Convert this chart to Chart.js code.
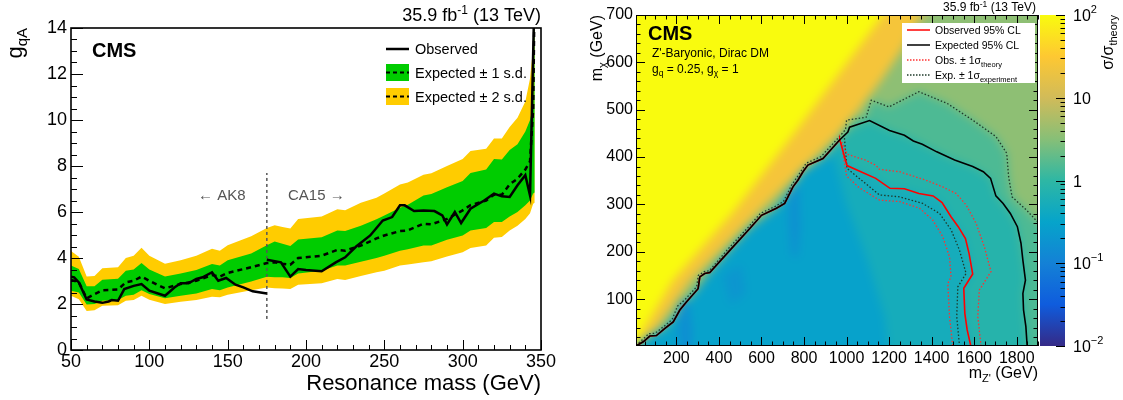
<!DOCTYPE html>
<html><head><meta charset="utf-8"><title>CMS limits</title>
<script src="https://cdn.jsdelivr.net/npm/chart.js@4.4.1/dist/chart.umd.min.js"></script>
<style>
html,body{margin:0;padding:0;background:#fff;}
#page{position:relative;width:1123px;height:400px;overflow:hidden;background:#fff;}
canvas{display:block;}
#cL{position:absolute;left:0;top:0;}
#heatWrap{position:absolute;overflow:hidden;}
#cH{position:absolute;filter:blur(5px);}
#cR{position:absolute;left:560px;top:0;}
</style></head><body>
<div id="page">
<canvas id="cL" width="560" height="400"></canvas>
<div id="heatWrap"><canvas id="cH"></canvas></div>
<canvas id="cR" width="563" height="400"></canvas>
</div>
<script>
// ================= LEFT PANEL DATA =================
const bandM      = [50, 55, 60, 65, 70, 80, 85, 90, 95, 100, 110, 120, 130, 140, 145, 150, 165, 175, 180, 185, 190, 195, 210, 220, 225, 235, 245, 250, 260, 265, 275, 280, 290, 300, 305, 315, 320, 325, 330, 335, 340, 343, 345, 346];
const yellowUp   = [4.3, 4.05, 3.2, 3.22, 3.55, 3.6, 4.0, 4.1, 4.45, 4.1, 3.75, 3.9, 4.1, 4.4, 4.32, 4.55, 4.95, 5.3, 5.42, 5.35, 5.28, 5.7, 5.8, 6.12, 6.08, 6.4, 6.62, 6.8, 7.2, 7.28, 7.62, 7.68, 8.0, 8.3, 8.65, 8.75, 9.2, 9.2, 9.7, 10.1, 10.8, 11.8, 13.2, 16];
const greenUp    = [3.67, 3.52, 2.77, 2.77, 3.05, 3.1, 3.45, 3.5, 3.78, 3.5, 3.2, 3.33, 3.48, 3.74, 3.67, 3.9, 4.2, 4.55, 4.72, 4.62, 4.52, 4.8, 4.9, 5.2, 5.17, 5.4, 5.68, 5.85, 6.18, 6.32, 6.72, 6.78, 7.08, 7.35, 7.7, 7.85, 8.3, 8.28, 8.7, 8.95, 9.5, 10.0, 10.6, 16];
const greenDown  = [2.58, 2.5, 1.98, 2.0, 2.14, 2.17, 2.36, 2.4, 2.6, 2.43, 2.25, 2.36, 2.46, 2.65, 2.6, 2.72, 2.98, 3.19, 3.16, 3.16, 3.13, 3.33, 3.45, 3.67, 3.67, 3.84, 4.0, 4.1, 4.32, 4.38, 4.54, 4.54, 4.79, 4.98, 5.2, 5.3, 5.56, 5.56, 5.8, 6.0, 6.29, 6.5, 6.8, 6.85];
const yellowDown = [2.36, 2.21, 1.7, 1.73, 1.92, 1.95, 2.14, 2.17, 2.36, 2.18, 2.0, 2.1, 2.17, 2.31, 2.29, 2.4, 2.6, 2.72, 2.69, 2.67, 2.65, 2.84, 2.9, 3.09, 3.04, 3.22, 3.38, 3.45, 3.67, 3.72, 3.81, 3.86, 4.06, 4.25, 4.44, 4.54, 4.88, 4.91, 5.2, 5.4, 5.7, 5.95, 6.36, 6.4];
const expectedG  = [3.05, 2.95, 2.24, 2.43, 2.6, 2.63, 2.94, 3.01, 3.19, 3.01, 2.68, 2.87, 3.01, 3.26, 3.19, 3.35, 3.6, 3.78, 3.81, 3.75, 3.71, 4.0, 4.1, 4.35, 4.32, 4.54, 4.85, 4.98, 5.17, 5.2, 5.49, 5.46, 5.7, 6.07, 6.3, 6.5, 6.75, 6.75, 7.2, 7.45, 7.85, 8.2, 10.5, 16];
const obsAK8M  = [50, 52, 55, 60, 65, 70, 74, 76, 80, 84, 90, 95, 100, 110, 116, 120, 125, 130, 134, 140, 144, 149, 155, 160, 166, 175];
const obsAK8G  = [3.19, 3.16, 2.94, 2.2, 2.11, 2.05, 2.11, 2.17, 2.14, 2.65, 2.79, 2.87, 2.58, 2.36, 2.72, 2.9, 2.9, 3.09, 3.16, 3.38, 3.01, 3.13, 2.84, 2.72, 2.55, 2.46];
const obsCA15M = [175, 184, 190, 195, 200, 210, 219, 225, 232, 241, 249, 255, 260, 263, 269, 275, 282, 287, 290, 295, 299, 305, 314, 320, 325, 330, 335, 340, 343, 346];
const obsCA15G = [3.92, 3.81, 3.19, 3.52, 3.48, 3.42, 3.81, 4.03, 4.5, 4.98, 5.63, 5.78, 6.29, 6.29, 6.04, 6.07, 6.04, 5.85, 5.46, 6.0, 5.52, 6.14, 6.51, 6.8, 6.68, 6.65, 7.16, 7.6, 6.72, 16];
const dividerM = [175, 175];
const dividerG = [1.35, 7.7];
const xTicksL = [50, 100, 150, 200, 250, 300, 350];
const yTicksL = [0, 2, 4, 6, 8, 10, 12, 14];

// ================= RIGHT PANEL DATA =================
const diagM   = [10, 44, 75, 106, 146, 185, 216, 247, 302, 310, 333, 357, 451, 545, 600, 670, 709, 748, 771, 795, 818, 889, 967];
const diagChi = [1, 10, 22, 23, 38, 52, 77, 94, 122, 147, 154, 156, 203, 249, 277, 292, 302, 337, 351, 369, 383, 397, 436];
const expBrM   = [1006, 1014, 1108, 1202, 1272, 1314, 1356, 1424, 1508, 1593, 1643, 1677, 1702, 1736, 1770, 1803, 1820, 1829, 1841, 1829, 1832, 1843, 1849];
const expBrChi = [453, 463, 477, 456, 446, 434, 427, 411, 394, 380, 369, 355, 318, 302, 281, 253, 218, 182, 140, 112, 77, 42, 1];
const obsBrM   = [968, 1002, 1137, 1204, 1272, 1340, 1407, 1449, 1491, 1525, 1559, 1576, 1593, 1551, 1556, 1567, 1584];
const obsBrChi = [437, 382, 355, 334, 333, 323, 318, 304, 274, 253, 228, 196, 153, 123, 70, 35, 1];
const obsUpM   = [977, 1002, 1086, 1137, 1155, 1249, 1374, 1452, 1515, 1562, 1609, 1648, 1679, 1624, 1617, 1632];
const obsUpChi = [432, 406, 394, 383, 374, 369, 351, 337, 323, 299, 260, 210, 158, 119, 63, 1];
const obsDnM   = [975, 1000, 1060, 1155, 1249, 1343, 1405, 1452, 1484, 1491, 1476, 1484, 1499];
const obsDnChi = [430, 360, 335, 309, 306, 292, 267, 232, 189, 147, 133, 63, 1];
const expUpM   = [10, 40, 70, 100, 140, 180, 205, 240, 295, 303, 330, 355, 445, 540, 595, 665, 703, 742, 765, 790, 810, 880, 960, 995, 1000, 1092, 1116, 1200, 1340, 1474, 1593, 1703, 1753, 1762, 1778, 1846, 1900];
const expUpChi = [3, 14, 27, 28, 42, 57, 85, 99, 126, 150, 158, 160, 207, 253, 281, 296, 306, 341, 356, 373, 387, 401, 440, 458, 478, 484, 520, 506, 538, 513, 478, 443, 408, 358, 316, 288, 262];
const expDnM   = [990, 1002, 1155, 1249, 1358, 1437, 1492, 1531, 1562, 1523, 1518, 1531];
const expDnChi = [440, 376, 320, 316, 302, 281, 246, 203, 154, 126, 63, 1];
const xTicksR = [200, 400, 600, 800, 1000, 1200, 1400, 1600, 1800];
const yTicksR = [100, 200, 300, 400, 500, 600, 700];
const cbTicks = [0.01, 0.1, 1, 10, 100];
const cbTickBase = ['10', '10', '1', '10', '10'];
const cbTickExp  = ['\u22122', '\u22121', '', '', '2'];

// heat-map regions (sigma/sigma_theory levels, boundaries in m_Z', m_chi)
const hBaseM = [-300, 2200, 2200, -300];
const hBaseC = [-150, -150, 900, 900];
const hBaseV = 3.5;
const hOuterM = [-300, -60, 10, 75, 146, 216, 302, 357, 451, 545, 670, 748, 795, 889, 967, 1002, 1092, 1116, 1200, 1340, 1474, 1593, 1703, 1753, 1762, 1778, 1846, 1900, 2200, 2200];
const hOuterC = [-150, -40, 1, 22, 38, 77, 122, 156, 203, 249, 292, 337, 369, 397, 436, 478, 484, 520, 506, 538, 513, 478, 443, 408, 358, 316, 288, 262, 180, -150];
const hOuterV = 1.5;
const hInnerM = [-300, -60, 10, 75, 146, 216, 302, 357, 451, 545, 670, 748, 795, 889, 1006, 1108, 1202, 1272, 1356, 1424, 1508, 1593, 1677, 1702, 1770, 1803, 1829, 1841, 1829, 1849, 1855];
const hInnerC = [-150, -40, 1, 22, 38, 77, 122, 156, 203, 249, 292, 337, 369, 397, 453, 477, 456, 446, 427, 411, 394, 380, 355, 318, 281, 253, 182, 140, 112, 1, -150];
const hInnerV = 0.8;
const hObsM = [-300, -60, 10, 75, 146, 216, 302, 357, 451, 545, 670, 748, 795, 889, 968, 1002, 1137, 1204, 1272, 1340, 1407, 1449, 1491, 1525, 1559, 1576, 1593, 1551, 1556, 1584, 1590];
const hObsC = [-150, -40, 1, 22, 38, 77, 122, 156, 203, 249, 292, 337, 369, 397, 437, 382, 355, 334, 333, 323, 318, 304, 274, 253, 228, 196, 153, 123, 70, 1, -150];
const hObsV = 0.5;
const hLowM = [-300, -60, 10, 75, 146, 216, 302, 357, 451, 545, 670, 748, 795, 889, 940, 1000, 1100, 1180, 1230];
const hLowC = [-150, -40, 1, 22, 38, 77, 122, 156, 203, 249, 292, 337, 369, 397, 400, 300, 180, 60, -150];
const hLowV = 0.3;
const hStreakAM = [735, 772, 778, 766, 744, 733];
const hStreakAC = [330, 338, 250, 185, 195, 260];
const hStreakBM = [218, 252, 272, 268, 225, 212];
const hStreakBC = [92, 98, 40, -40, -40, 30];
const hStreakCM = [420, 505, 525, 455];
const hStreakCC = [150, 172, 112, 88];
const hStreakV = 0.15;
const hTransM = [700, 850, 1000, 1150, 1300, 1450, 1520, 600];
const hTransC = [420, 480, 545, 595, 650, 740, 900, 900];
const hTransV = 7;
const hOrangeM = [-300, -100, 100, 270, 580, 990, 1160, 1265, 1360, 1430, -300];
const hOrangeC = [-60, -40, 34, 140, 281, 460, 560, 630, 720, 900, 900];
const hOrangeV = 25;
const hYellowM = [-300, -100, 43, 183, 460, 764, 1170, 1280, -300];
const hYellowC = [-100, -70, 34, 140, 281, 457, 700, 900, 900];
const hYellowV = 100;

// ================= HELPERS =================
const FONT = '"Liberation Sans", Arial, Helvetica, sans-serif';
function fnt(s, b) { return (b ? 'bold ' : '') + s + 'px ' + FONT; }
function rich(ctx, parts, x, y, align, rot, color) {
  ctx.save(); ctx.translate(x, y); if (rot) ctx.rotate(rot);
  ctx.fillStyle = color || '#000'; ctx.textBaseline = 'alphabetic'; ctx.textAlign = 'left';
  let w = 0;
  for (const p of parts) { ctx.font = fnt(p.s, p.b); p.w = ctx.measureText(p.t).width; w += p.w; }
  let cx = align === 'right' ? -w : (align === 'center' ? -w / 2 : 0);
  for (const p of parts) { ctx.font = fnt(p.s, p.b); ctx.fillText(p.t, cx, p.dy || 0); cx += p.w; }
  ctx.restore();
}
function pts(xs, ys) { return xs.map((v, i) => ({ x: v, y: ys[i] })); }
const birdStops = [[53,42,135],[15,92,221],[20,129,214],[6,164,202],[46,183,164],[135,191,119],[209,187,89],[254,200,50],[249,251,14]];
function birdColor(v) {
  let t = (Math.log10(v) + 2) / 4; t = Math.min(1, Math.max(0, t));
  const f = t * 8, i = Math.min(7, Math.floor(f)), r = f - i;
  const a = birdStops[i], b = birdStops[i + 1];
  return 'rgb(' + [0,1,2].map(k => Math.round(a[k] + (b[k] - a[k]) * r)).join(',') + ')';
}
function line(ctx, x1, y1, x2, y2) { ctx.moveTo(x1, y1); ctx.lineTo(x2, y2); }
const plainLabel = v => String(v);

// ================= LEFT CHART =================
const GREEN = '#00cc00', YELLOW = '#ffcc00';
const leftDecor = {
  id: 'leftDecor',
  afterDraw(chart) {
    const { ctx, chartArea: a, scales: { x, y } } = chart;
    ctx.save();
    ctx.strokeStyle = '#000'; ctx.lineWidth = 1;
    ctx.beginPath();
    for (let v = 0; v <= 14.001; v += 0.5) {
      const py = Math.round(y.getPixelForValue(v)) + 0.5;
      line(ctx, a.left, py, a.left + (Math.abs(v % 2) < 1e-6 ? 12 : 6), py);
    }
    for (let m = 50; m <= 350; m += 10) {
      const px = Math.round(x.getPixelForValue(m)) + 0.5;
      line(ctx, px, a.bottom, px, a.bottom - (m % 50 === 0 ? 10 : 5));
    }
    ctx.stroke();
    ctx.lineWidth = 1.6;
    ctx.strokeRect(a.left, a.top, a.right - a.left, a.bottom - a.top);
    // legend
    ctx.lineWidth = 2.5; ctx.setLineDash([]);
    ctx.beginPath(); line(ctx, 386, 49, 409, 49); ctx.stroke();
    ctx.fillStyle = GREEN; ctx.fillRect(386, 64, 23, 17);
    ctx.fillStyle = YELLOW; ctx.fillRect(386, 88, 23, 17);
    ctx.lineWidth = 2; ctx.setLineDash([4, 3]);
    ctx.beginPath(); line(ctx, 386, 72.5, 409, 72.5); line(ctx, 386, 96.5, 409, 96.5); ctx.stroke();
    ctx.setLineDash([]);
    ctx.restore();
    rich(ctx, [{ t: 'Observed', s: 14.5 }], 415, 54, 'left');
    rich(ctx, [{ t: 'Expected \u00b1 1 s.d.', s: 14.5 }], 415, 78, 'left');
    rich(ctx, [{ t: 'Expected \u00b1 2 s.d.', s: 14.5 }], 415, 102, 'left');
    rich(ctx, [{ t: 'CMS', s: 20, b: true }], 92, 57, 'left');
    rich(ctx, [{ t: '35.9 fb', s: 18 }, { t: '-1', s: 12, dy: -7 }, { t: ' (13 TeV)', s: 18 }], a.right, 21, 'right');
    rich(ctx, [{ t: 'Resonance mass (GeV)', s: 22 }], a.right, 390, 'right');
    rich(ctx, [{ t: 'g', s: 22 }, { t: 'qA', s: 15, dy: 5 }], 22, a.top, 'right', -Math.PI / 2);
    rich(ctx, [{ t: '\u2190 AK8', s: 15 }], 198, 200, 'left', 0, '#555');
    rich(ctx, [{ t: 'CA15 \u2192', s: 15 }], 288, 200, 'left', 0, '#555');
  }
};

const noGrid = { display: false, drawTicks: false, tickLength: 0 };
const cL = new Chart(document.getElementById('cL'), {
  type: 'line',
  data: {
    datasets: [
      { data: pts(bandM, yellowUp), fill: '+1', backgroundColor: YELLOW, borderWidth: 0, borderColor: 'rgba(0,0,0,0)', order: 10 },
      { data: pts(bandM, yellowDown), fill: false, borderWidth: 0, borderColor: 'rgba(0,0,0,0)', order: 9 },
      { data: pts(bandM, greenUp), fill: '+1', backgroundColor: GREEN, borderWidth: 0, borderColor: 'rgba(0,0,0,0)', order: 8 },
      { data: pts(bandM, greenDown), fill: false, borderWidth: 0, borderColor: 'rgba(0,0,0,0)', order: 7 },
      { data: pts(dividerM, dividerG), fill: false, borderColor: '#555', borderWidth: 1.5, borderDash: [3, 3], order: 4 },
      { data: pts(bandM, expectedG), fill: false, borderColor: '#000', borderWidth: 2.5, borderDash: [5, 4], order: 3 },
      { data: pts(obsAK8M, obsAK8G), fill: false, borderColor: '#000', borderWidth: 2.5, order: 2 },
      { data: pts(obsCA15M, obsCA15G), fill: false, borderColor: '#000', borderWidth: 2.5, order: 1 }
    ]
  },
  options: {
    responsive: false, animation: false, events: [],
    layout: { padding: { left: 0, right: 19, top: 28, bottom: 0 } },
    plugins: { legend: { display: false }, tooltip: { enabled: false } },
    elements: { point: { radius: 0 }, line: { tension: 0 } },
    scales: {
      x: { type: 'linear', min: 50, max: 350, grid: noGrid, border: { display: false },
           afterBuildTicks: s => { s.ticks = xTicksL.map(v => ({ value: v })); },
           afterFit: s => { s.height = 50; },
           ticks: { font: { family: FONT, size: 18 }, color: '#000', padding: 1, maxRotation: 0, autoSkip: false, callback: plainLabel } },
      y: { type: 'linear', min: 0, max: 14, grid: noGrid, border: { display: false },
           afterBuildTicks: s => { s.ticks = yTicksL.map(v => ({ value: v })); },
           afterFit: s => { s.width = 71; },
           ticks: { font: { family: FONT, size: 18 }, color: '#000', padding: 4, autoSkip: false, callback: plainLabel } }
    }
  },
  plugins: [leftDecor]
});

// ================= RIGHT CHART =================
const xMinR = 10, xMaxR = 1900, yMinR = 1, yMaxR = 700;
const rightDecor = {
  id: 'rightDecor',
  afterDraw(chart) {
    const { ctx, chartArea: a, scales: { x, y, cb } } = chart;
    ctx.save();
    // colour bar
    const cbL = a.right + 2, cbW = 25;
    const g = ctx.createLinearGradient(0, a.bottom, 0, a.top);
    birdStops.forEach((c, i) => g.addColorStop(i / 8, 'rgb(' + c.join(',') + ')'));
    ctx.fillStyle = g; ctx.fillRect(cbL, a.top, cbW, a.bottom - a.top);
    ctx.strokeStyle = '#000'; ctx.lineWidth = 1;
    ctx.beginPath();
    for (let d = -2; d <= 2; d++) {
      for (let k = 1; k <= 9; k++) {
        const v = k * Math.pow(10, d); if (v > 100.0001) break;
        const py = Math.round(cb.getPixelForValue(v)) + 0.5;
        line(ctx, cbL + cbW, py, cbL + cbW - (k === 1 ? 9 : 4.5), py);
      }
    }
    // axis ticks, all four sides
    for (let m = 50; m <= 1900; m += 50) {
      const px = Math.round(x.getPixelForValue(m)) + 0.5, L = m % 200 === 0 ? 9 : 4.5;
      line(ctx, px, a.bottom, px, a.bottom - L); line(ctx, px, a.top, px, a.top + L);
    }
    for (let c = 20; c <= 700; c += 20) {
      const py = Math.round(y.getPixelForValue(c)) + 0.5, L = c % 100 === 0 ? 9 : 4.5;
      line(ctx, a.left, py, a.left + L, py); line(ctx, a.right, py, a.right - L, py);
    }
    ctx.stroke();
    ctx.strokeRect(a.left + 0.5, a.top + 0.5, a.right - a.left - 1, a.bottom - a.top - 1);
    // legend box
    ctx.fillStyle = '#fff'; ctx.fillRect(342, 23, 133, 60);
    const ly = [30, 45, 60, 75];
    ctx.lineWidth = 1.5;
    ctx.strokeStyle = '#ff0000'; ctx.beginPath(); line(ctx, 347, ly[0], 370, ly[0]); ctx.stroke();
    ctx.strokeStyle = '#000'; ctx.beginPath(); line(ctx, 347, ly[1], 370, ly[1]); ctx.stroke();
    ctx.lineWidth = 1.3; ctx.setLineDash([1.5, 1.5]);
    ctx.strokeStyle = '#ff3030'; ctx.beginPath(); line(ctx, 347, ly[2], 370, ly[2]); ctx.stroke();
    ctx.strokeStyle = '#1e3a2a'; ctx.beginPath(); line(ctx, 347, ly[3], 370, ly[3]); ctx.stroke();
    ctx.setLineDash([]);
    ctx.restore();
    rich(ctx, [{ t: 'Observed 95% CL', s: 10.5 }], 375, ly[0] + 4, 'left');
    rich(ctx, [{ t: 'Expected 95% CL', s: 10.5 }], 375, ly[1] + 4, 'left');
    rich(ctx, [{ t: 'Obs. \u00b1 1\u03c3', s: 10.5 }, { t: 'theory', s: 7.5, dy: 3 }], 375, ly[2] + 4, 'left');
    rich(ctx, [{ t: 'Exp. \u00b1 1\u03c3', s: 10.5 }, { t: 'experiment', s: 7.5, dy: 3 }], 375, ly[3] + 4, 'left');
    // colour-bar labels
    cbTicks.forEach((v, i) => {
      const py = cb.getPixelForValue(v);
      const parts = [{ t: cbTickBase[i], s: 16 }];
      if (cbTickExp[i]) parts.push({ t: cbTickExp[i], s: 11, dy: -8 });
      rich(ctx, parts, cbL + cbW + 8, py + 6, 'left');
    });
    // texts
    rich(ctx, [{ t: 'CMS', s: 20, b: true }], 88, 40, 'left');
    rich(ctx, [{ t: "Z'-Baryonic, Dirac DM", s: 12 }], 92, 57, 'left');
    rich(ctx, [{ t: 'g', s: 12 }, { t: 'q', s: 8.5, dy: 3 }, { t: ' = 0.25, g', s: 12 }, { t: '\u03c7', s: 8.5, dy: 3 }, { t: ' = 1', s: 12 }], 92, 73, 'left');
    rich(ctx, [{ t: '35.9 fb', s: 12 }, { t: '-1', s: 8.5, dy: -4.5 }, { t: ' (13 TeV)', s: 12 }], a.right - 2, 11, 'right');
    rich(ctx, [{ t: 'm', s: 16 }, { t: "Z'", s: 11, dy: 4 }, { t: ' (GeV)', s: 16 }], a.right, 378, 'right');
    rich(ctx, [{ t: 'm', s: 16 }, { t: '\u03c7', s: 11, dy: 4 }, { t: ' (GeV)', s: 16 }], 42, a.top, 'right', -Math.PI / 2);
    rich(ctx, [{ t: '\u03c3/\u03c3', s: 16 }, { t: 'theory', s: 11, dy: 4 }], 553, a.top, 'right', -Math.PI / 2);
  }
};

const expFull = pts(diagM.concat(expBrM), diagChi.concat(expBrChi));
const obsFull = pts(diagM.concat(obsBrM), diagChi.concat(obsBrChi));
const cR = new Chart(document.getElementById('cR'), {
  type: 'line',
  data: {
    datasets: [
      { data: expFull, borderColor: '#000', borderWidth: 1.6, fill: false, order: 0 },
      { data: obsFull, borderColor: '#ff0000', borderWidth: 1.6, fill: false, order: 1 },
      { data: pts(obsUpM, obsUpChi), borderColor: '#ff3030', borderWidth: 1.3, borderDash: [1.5, 2], fill: false, order: 2 },
      { data: pts(obsDnM, obsDnChi), borderColor: '#ff3030', borderWidth: 1.3, borderDash: [1.5, 2], fill: false, order: 3 },
      { data: pts(expUpM, expUpChi), borderColor: '#1e3a2a', borderWidth: 1.3, borderDash: [1.5, 2], fill: false, order: 4 },
      { data: pts(expDnM, expDnChi), borderColor: '#1e3a2a', borderWidth: 1.3, borderDash: [1.5, 2], fill: false, order: 5 }
    ]
  },
  options: {
    responsive: false, animation: false, events: [],
    layout: { padding: { left: 0, right: 0, top: 15, bottom: 0 } },
    plugins: { legend: { display: false }, tooltip: { enabled: false } },
    elements: { point: { radius: 0 }, line: { tension: 0 } },
    scales: {
      x: { type: 'linear', min: xMinR, max: xMaxR, grid: noGrid, border: { display: false },
           afterBuildTicks: s => { s.ticks = xTicksR.map(v => ({ value: v })); },
           afterFit: s => { s.height = 54; },
           ticks: { font: { family: FONT, size: 16 }, color: '#000', padding: 3, maxRotation: 0, autoSkip: false, callback: plainLabel } },
      y: { type: 'linear', min: yMinR, max: yMaxR, grid: noGrid, border: { display: false },
           afterBuildTicks: s => { s.ticks = yTicksR.map(v => ({ value: v })); },
           afterFit: s => { s.width = 76; },
           ticks: { font: { family: FONT, size: 16 }, color: '#000', padding: 3, autoSkip: false, callback: plainLabel } },
      cb: { type: 'logarithmic', position: 'right', min: 0.01, max: 100, grid: noGrid, border: { display: false },
            afterBuildTicks: s => { s.ticks = cbTicks.map(v => ({ value: v })); },
            afterFit: s => { s.width = 85; },
            ticks: { display: false } }
    }
  },
  plugins: [rightDecor]
});

// ================= HEAT MAP (under right chart) =================
const A = cR.chartArea, ext = 30;
const wrap = document.getElementById('heatWrap');
wrap.style.left = (560 + A.left) + 'px'; wrap.style.top = A.top + 'px';
wrap.style.width = (A.right - A.left) + 'px'; wrap.style.height = (A.bottom - A.top) + 'px';
const cHel = document.getElementById('cH');
cHel.width = Math.round(A.right - A.left + 2 * ext); cHel.height = Math.round(A.bottom - A.top + 2 * ext);
cHel.style.left = -ext + 'px'; cHel.style.top = -ext + 'px';
const gx = (xMaxR - xMinR) / (A.right - A.left), gy = (yMaxR - yMinR) / (A.bottom - A.top);
const regions = [
  [hBaseM, hBaseC, hBaseV], [hOuterM, hOuterC, hOuterV], [hInnerM, hInnerC, hInnerV],
  [hObsM, hObsC, hObsV], [hLowM, hLowC, hLowV],
  [hStreakAM, hStreakAC, hStreakV], [hStreakBM, hStreakBC, hStreakV], [hStreakCM, hStreakCC, 0.2],
  [hTransM, hTransC, hTransV], [hOrangeM, hOrangeC, hOrangeV], [hYellowM, hYellowC, hYellowV]
];
new Chart(cHel, {
  type: 'line',
  data: { datasets: regions.map((r, i) => ({
    data: pts(r[0], r[1]), fill: 'shape', backgroundColor: birdColor(r[2]),
    borderWidth: 0, borderColor: 'rgba(0,0,0,0)', pointRadius: 0, order: regions.length - i })) },
  options: {
    responsive: false, animation: false, events: [],
    layout: { padding: 0 },
    plugins: { legend: { display: false }, tooltip: { enabled: false } },
    elements: { line: { tension: 0 } },
    scales: {
      x: { type: 'linear', display: false, min: xMinR - ext * gx, max: xMaxR + ext * gx },
      y: { type: 'linear', display: false, min: yMinR - ext * gy, max: yMaxR + ext * gy }
    }
  }
});
</script></body></html>
